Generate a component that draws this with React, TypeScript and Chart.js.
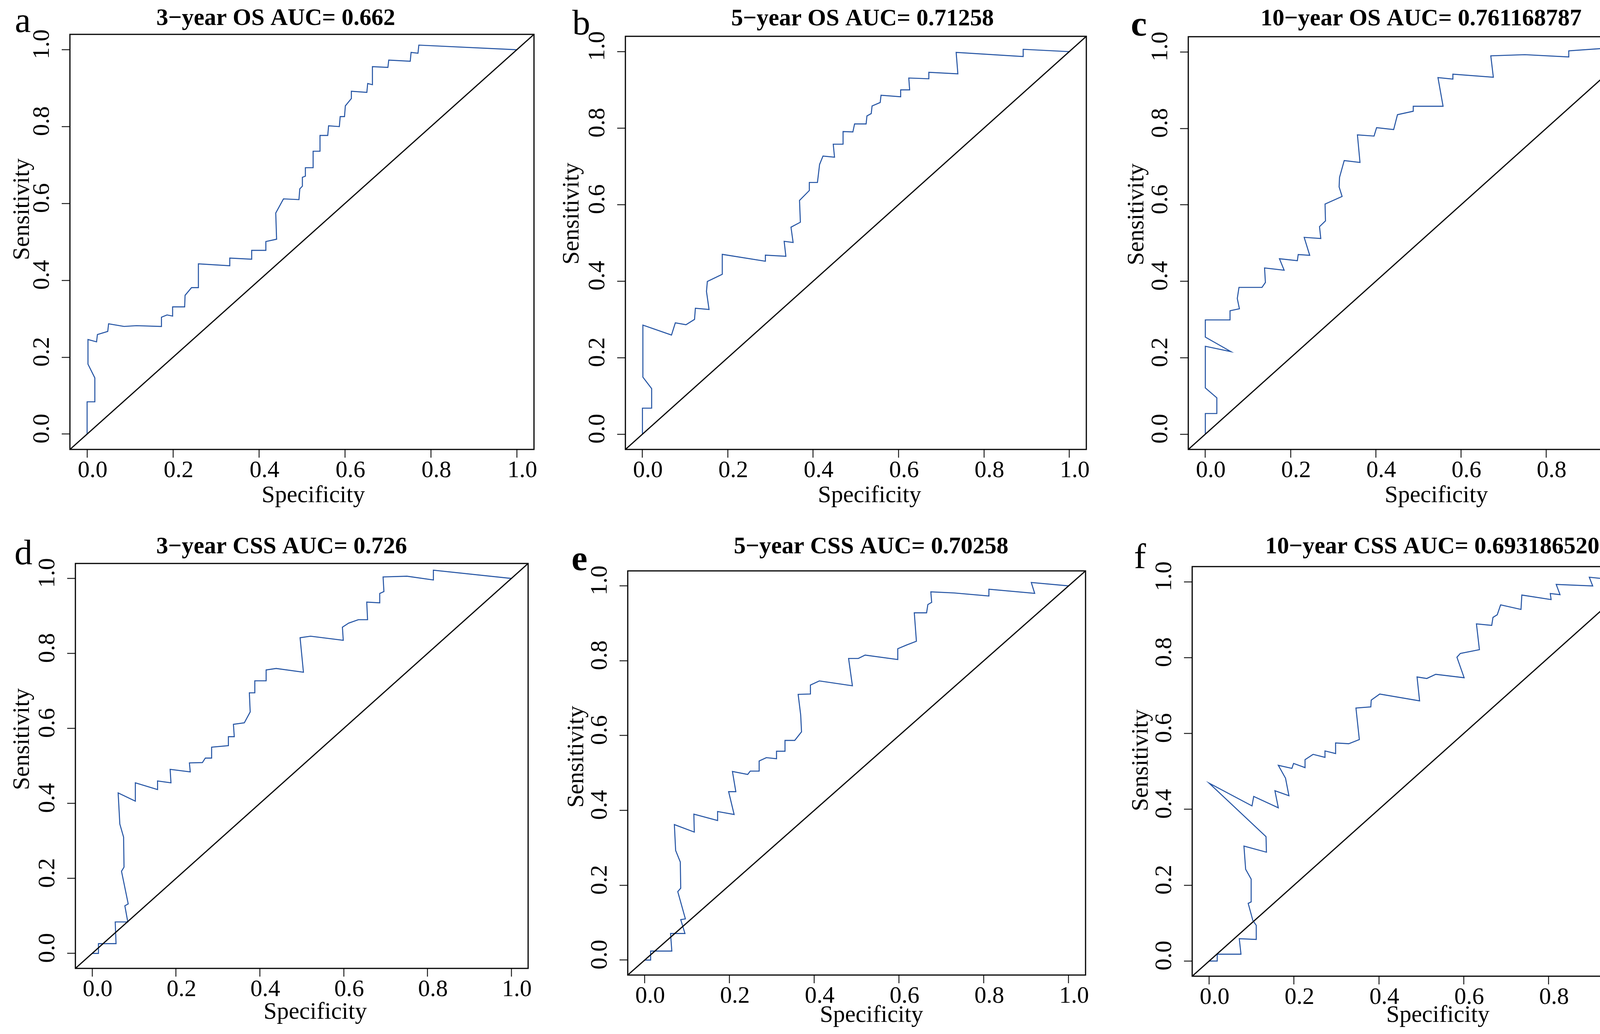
import React, { useEffect, useRef } from "react";
import { Chart, registerables } from "chart.js";

Chart.register(...registerables);

// ---------- axis settings ----------
const AXIS_MIN = -0.04;
const AXIS_MAX = 1.04;
const TICK_STEP = 0.2;
const diagonalSpec = [AXIS_MIN, AXIS_MAX];
const diagonalSens = [AXIS_MIN, AXIS_MAX];

// ---------- text ----------
const panelLetters = ["a", "b", "c", "d", "e", "f"];
const panelTitles = [
  "3\u2212year OS AUC= 0.662",
  "5\u2212year OS AUC= 0.71258",
  "10\u2212year OS AUC= 0.761168787",
  "3\u2212year CSS AUC= 0.726",
  "5\u2212year CSS AUC= 0.70258",
  "10\u2212year CSS AUC= 0.6931865207",
];
const xAxisTitle = "Specificity";
const yAxisTitle = "Sensitivity";

// ---------- data ----------
const os3Spec = [0, 0, 0.018, 0.018, 0.002, 0.002, 0.022, 0.024, 0.048, 0.05, 0.086, 0.115, 0.173, 0.173, 0.186, 0.199, 0.199, 0.227, 0.228, 0.243, 0.259, 0.259, 0.332, 0.332, 0.383, 0.383, 0.416, 0.416, 0.441, 0.439, 0.457, 0.493, 0.495, 0.501, 0.501, 0.508, 0.508, 0.526, 0.526, 0.542, 0.542, 0.56, 0.562, 0.587, 0.589, 0.599, 0.601, 0.615, 0.615, 0.651, 0.653, 0.664, 0.664, 0.7, 0.702, 0.752, 0.754, 0.77, 0.772, 1];
const os3Sens = [0, 0.084, 0.084, 0.146, 0.182, 0.246, 0.24, 0.259, 0.267, 0.287, 0.28, 0.282, 0.28, 0.304, 0.31, 0.307, 0.331, 0.331, 0.361, 0.381, 0.381, 0.443, 0.438, 0.458, 0.455, 0.478, 0.478, 0.501, 0.507, 0.575, 0.612, 0.61, 0.638, 0.645, 0.668, 0.671, 0.693, 0.693, 0.736, 0.736, 0.777, 0.777, 0.802, 0.8, 0.826, 0.826, 0.854, 0.873, 0.892, 0.889, 0.912, 0.909, 0.956, 0.954, 0.973, 0.97, 0.993, 0.991, 1.012, 1];

const os5Spec = [0, 0, 0.0215, 0.0215, 0.001, 0.001, 0.068, 0.077, 0.102, 0.122, 0.124, 0.156, 0.15, 0.152, 0.187, 0.187, 0.288, 0.288, 0.336, 0.332, 0.353, 0.348, 0.37, 0.368, 0.391, 0.391, 0.41, 0.415, 0.423, 0.45, 0.447, 0.47, 0.47, 0.493, 0.497, 0.524, 0.526, 0.536, 0.538, 0.557, 0.559, 0.605, 0.605, 0.626, 0.624, 0.671, 0.671, 0.739, 0.735, 0.892, 0.892, 1];
const os5Sens = [0, 0.068, 0.068, 0.119, 0.149, 0.285, 0.259, 0.291, 0.286, 0.3, 0.329, 0.326, 0.373, 0.399, 0.418, 0.47, 0.452, 0.468, 0.465, 0.504, 0.501, 0.541, 0.554, 0.611, 0.637, 0.658, 0.658, 0.705, 0.727, 0.724, 0.758, 0.758, 0.791, 0.79, 0.811, 0.811, 0.832, 0.838, 0.858, 0.867, 0.886, 0.882, 0.9, 0.9, 0.931, 0.929, 0.946, 0.942, 0.998, 0.987, 1.006, 1];

const os10Spec = [0, 0, 0.027, 0.027, 0, 0, 0.06, 0, 0, 0.058, 0.058, 0.08, 0.075, 0.079, 0.133, 0.141, 0.139, 0.185, 0.174, 0.216, 0.218, 0.245, 0.232, 0.271, 0.268, 0.282, 0.281, 0.321, 0.314, 0.315, 0.326, 0.363, 0.357, 0.396, 0.402, 0.442, 0.451, 0.488, 0.488, 0.558, 0.546, 0.581, 0.581, 0.676, 0.67, 0.75, 0.853, 0.853, 0.929, 1];
const os10Sens = [0, 0.054, 0.054, 0.095, 0.121, 0.23, 0.216, 0.254, 0.299, 0.299, 0.323, 0.328, 0.355, 0.384, 0.384, 0.397, 0.435, 0.429, 0.459, 0.454, 0.47, 0.468, 0.515, 0.512, 0.543, 0.558, 0.602, 0.622, 0.647, 0.672, 0.716, 0.711, 0.783, 0.78, 0.802, 0.797, 0.836, 0.845, 0.858, 0.858, 0.933, 0.929, 0.942, 0.934, 0.99, 0.993, 0.987, 1.003, 1.009, 1];

const css3Spec = [0, 0.015, 0.015, 0.057, 0.055, 0.085, 0.078, 0.086, 0.07, 0.076, 0.075, 0.066, 0.062, 0.103, 0.103, 0.156, 0.156, 0.188, 0.186, 0.234, 0.232, 0.263, 0.27, 0.285, 0.285, 0.325, 0.325, 0.339, 0.337, 0.363, 0.377, 0.375, 0.388, 0.388, 0.415, 0.415, 0.439, 0.504, 0.496, 0.521, 0.599, 0.597, 0.612, 0.635, 0.657, 0.655, 0.686, 0.686, 0.696, 0.694, 0.751, 0.814, 0.814, 1];
const css3Sens = [0, 0, 0.026, 0.026, 0.084, 0.084, 0.127, 0.132, 0.219, 0.23, 0.31, 0.345, 0.428, 0.406, 0.455, 0.437, 0.46, 0.455, 0.491, 0.484, 0.508, 0.509, 0.521, 0.521, 0.55, 0.554, 0.578, 0.578, 0.611, 0.615, 0.644, 0.695, 0.695, 0.727, 0.727, 0.756, 0.76, 0.75, 0.842, 0.846, 0.835, 0.87, 0.881, 0.89, 0.89, 0.937, 0.935, 0.96, 0.965, 1.004, 1.006, 0.996, 1.022, 1];

const css5Spec = [0, 0.014, 0.014, 0.064, 0.061, 0.095, 0.085, 0.096, 0.078, 0.085, 0.084, 0.073, 0.07, 0.117, 0.116, 0.172, 0.172, 0.211, 0.198, 0.215, 0.207, 0.243, 0.249, 0.27, 0.27, 0.287, 0.311, 0.311, 0.331, 0.331, 0.354, 0.37, 0.368, 0.362, 0.391, 0.391, 0.412, 0.49, 0.481, 0.504, 0.52, 0.597, 0.597, 0.618, 0.641, 0.636, 0.665, 0.668, 0.677, 0.675, 0.73, 0.812, 0.812, 0.92, 0.912, 1];
const css5Sens = [0, 0, 0.024, 0.024, 0.071, 0.071, 0.108, 0.11, 0.183, 0.192, 0.262, 0.293, 0.362, 0.342, 0.39, 0.373, 0.397, 0.389, 0.45, 0.45, 0.504, 0.496, 0.505, 0.505, 0.532, 0.541, 0.538, 0.558, 0.558, 0.587, 0.587, 0.61, 0.655, 0.71, 0.711, 0.735, 0.746, 0.733, 0.806, 0.806, 0.815, 0.803, 0.832, 0.842, 0.852, 0.928, 0.928, 0.95, 0.956, 0.984, 0.981, 0.973, 0.991, 0.98, 1.009, 1];

const css10Spec = [0, 0.019, 0.019, 0.075, 0.071, 0.111, 0.111, 0.103, 0.092, 0.099, 0.099, 0.086, 0.082, 0.135, 0.134, 0, 0.101, 0.105, 0.163, 0.155, 0.188, 0.18, 0.163, 0.195, 0.199, 0.226, 0.226, 0.245, 0.273, 0.273, 0.298, 0.298, 0.329, 0.354, 0.346, 0.381, 0.382, 0.402, 0.496, 0.49, 0.513, 0.534, 0.601, 0.584, 0.592, 0.637, 0.63, 0.666, 0.669, 0.679, 0.687, 0.735, 0.737, 0.806, 0.804, 0.827, 0.818, 0.904, 0.896, 1];
const css10Sens = [0, 0, 0.018, 0.018, 0.059, 0.057, 0.094, 0.107, 0.152, 0.156, 0.216, 0.242, 0.303, 0.287, 0.328, 0.469, 0.409, 0.434, 0.404, 0.449, 0.436, 0.482, 0.516, 0.508, 0.521, 0.51, 0.531, 0.545, 0.537, 0.554, 0.547, 0.575, 0.573, 0.584, 0.667, 0.67, 0.688, 0.704, 0.686, 0.749, 0.745, 0.756, 0.747, 0.801, 0.811, 0.821, 0.889, 0.885, 0.906, 0.913, 0.939, 0.927, 0.965, 0.953, 0.969, 0.966, 0.993, 0.989, 1.012, 1];

const specSeries = [os3Spec, os5Spec, os10Spec, css3Spec, css5Spec, css10Spec];
const sensSeries = [os3Sens, os5Sens, os10Sens, css3Sens, css5Sens, css10Sens];

// ---------- layout (page pixels) ----------
const PAGE_W = 4270;
const PAGE_H = 2648;
const CELLS = [
  { x0: 0, y0: 0, w: 1420, h: 1320 },
  { x0: 1420, y0: 0, w: 1430, h: 1320 },
  { x0: 2850, y0: 0, w: 1420, h: 1320 },
  { x0: 0, y0: 1320, w: 1420, h: 1328 },
  { x0: 1420, y0: 1320, w: 1430, h: 1328 },
  { x0: 2850, y0: 1320, w: 1420, h: 1328 },
];
// plot box: left, top, right, bottom
const BOXES = [
  [179, 88, 1367, 1151],
  [1601, 93, 2781, 1151],
  [3042, 94, 4220, 1151],
  [193, 1443, 1352, 2480],
  [1607, 1462, 2779, 2497],
  [3052, 1451, 4225, 2500],
];
const TITLE_POS = [[706, 64], [2208, 65], [3638, 65], [721, 1417], [2230, 1417], [3682, 1417]];
const LETTER_POS = [[38, 82], [1465, 88], [2895, 91], [37, 1445], [1463, 1460], [2903, 1455]];
const LETTER_BOLD = [false, false, true, false, true, false];
const YTITLE_POS = [[58, 536], [1465, 547], [2911, 549], [58, 1893], [1477, 1938], [2922, 1947]];
const XTITLE_POS = [[802, 1286], [2226, 1286], [3677, 1286], [807, 2609], [2231, 2617], [3681, 2617]];

const FONT = "'Liberation Serif', 'Times New Roman', serif";
const CURVE_COLOR = "#2353a3";
const Y_AXIS_W = 110;
const X_AXIS_H = 90;

function RocPanel({ idx }: { idx: number }) {
  const ref = useRef<HTMLCanvasElement | null>(null);
  const cell = CELLS[idx];

  useEffect(() => {
    if (!ref.current) return;
    const box = BOXES[idx];
    const padding = {
      left: box[0] - cell.x0 - Y_AXIS_W,
      top: box[1] - cell.y0,
      right: cell.x0 + cell.w - box[2],
      bottom: cell.y0 + cell.h - box[3] - X_AXIS_H,
    };
    const curve = specSeries[idx].map((x, i) => ({ x, y: sensSeries[idx][i] }));
    const diag = diagonalSpec.map((x, i) => ({ x, y: diagonalSens[i] }));

    const decor = {
      id: "rocDecor" + idx,
      afterDatasetsDraw(chart: any) {
        const { ctx, chartArea } = chart;
        ctx.save();
        ctx.strokeStyle = "#000";
        ctx.lineWidth = 3;
        ctx.strokeRect(chartArea.left, chartArea.top, chartArea.right - chartArea.left, chartArea.bottom - chartArea.top);
        ctx.restore();
      },
      afterDraw(chart: any) {
        const ctx = chart.ctx;
        ctx.save();
        ctx.fillStyle = "#000";
        // title
        ctx.font = `bold 61px ${FONT}`;
        ctx.textAlign = "center";
        ctx.textBaseline = "alphabetic";
        ctx.fillText(panelTitles[idx], TITLE_POS[idx][0] - cell.x0, TITLE_POS[idx][1] - cell.y0);
        // panel letter
        ctx.font = `${LETTER_BOLD[idx] ? "bold " : ""}92px ${FONT}`;
        ctx.textAlign = "left";
        ctx.fillText(panelLetters[idx], LETTER_POS[idx][0] - cell.x0, LETTER_POS[idx][1] - cell.y0);
        // x axis title
        ctx.font = `61px ${FONT}`;
        ctx.textAlign = "center";
        ctx.fillText(xAxisTitle, XTITLE_POS[idx][0] - cell.x0, XTITLE_POS[idx][1] - cell.y0);
        // y axis title
        ctx.translate(YTITLE_POS[idx][0] - cell.x0, YTITLE_POS[idx][1] - cell.y0);
        ctx.rotate(-Math.PI / 2);
        ctx.textBaseline = "middle";
        ctx.fillText(yAxisTitle, 0, 0);
        ctx.restore();
      },
    };

    const tickFont = { family: FONT, size: 61, lineHeight: 1 };
    const gridOpts = {
      display: true,
      drawOnChartArea: false,
      drawTicks: true,
      tickLength: 21,
      color: "#222",
      lineWidth: 2.5,
    };

    const chart = new Chart(ref.current, {
      type: "scatter",
      data: {
        datasets: [
          {
            data: diag,
            showLine: true,
            borderColor: "#000",
            borderWidth: 3,
            pointRadius: 0,
            fill: false,
          },
          {
            data: curve,
            showLine: true,
            borderColor: CURVE_COLOR,
            borderWidth: 2.6,
            pointRadius: 0,
            tension: 0,
            fill: false,
          },
        ],
      },
      options: {
        animation: false,
        responsive: false,
        devicePixelRatio: 1,
        events: [],
        layout: { padding },
        plugins: {
          legend: { display: false },
          tooltip: { enabled: false },
          title: { display: false },
        },
        scales: {
          x: {
            type: "linear",
            position: "bottom",
            min: AXIS_MIN,
            max: AXIS_MAX,
            afterFit: (s: any) => {
              s.height = X_AXIS_H;
            },
            grid: gridOpts,
            border: { display: false },
            ticks: {
              stepSize: TICK_STEP,
              includeBounds: false,
              autoSkip: false,
              maxRotation: 0,
              minRotation: 0,
              padding: 3,
              labelOffset: 14,
              color: "#000",
              font: tickFont,
              callback: (v: any) => Number(v).toFixed(1),
            },
          },
          y: {
            type: "linear",
            position: "left",
            min: AXIS_MIN,
            max: AXIS_MAX,
            afterFit: (s: any) => {
              s.width = Y_AXIS_W;
            },
            grid: gridOpts,
            border: { display: false },
            ticks: {
              stepSize: TICK_STEP,
              includeBounds: false,
              autoSkip: false,
              minRotation: 90,
              maxRotation: 90,
              crossAlign: "center",
              padding: 11,
              labelOffset: -14,
              color: "#000",
              font: tickFont,
              callback: (v: any) => Number(v).toFixed(1),
            },
          },
        },
      } as any,
      plugins: [decor],
    });
    return () => chart.destroy();
  }, [idx]);

  return (
    <canvas
      ref={ref}
      width={cell.w}
      height={cell.h}
      style={{ position: "absolute", left: cell.x0, top: cell.y0, width: cell.w, height: cell.h }}
    />
  );
}

export default function App() {
  return (
    <div
      style={{
        position: "absolute",
        left: 0,
        top: 0,
        width: PAGE_W,
        height: PAGE_H,
        background: "#fff",
        overflow: "hidden",
      }}
    >
      {panelTitles.map((_, i) => (
        <RocPanel key={i} idx={i} />
      ))}
    </div>
  );
}
